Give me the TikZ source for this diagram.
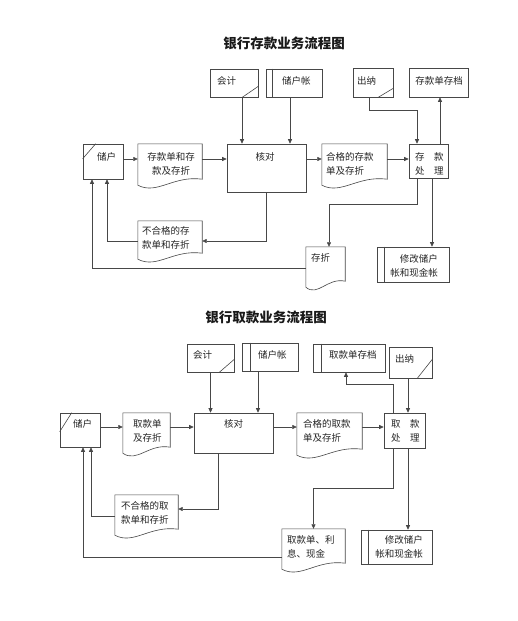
\documentclass[tikz,border=0pt]{standalone}
\usepackage{fontspec}
\newfontfamily\cjk{Noto Sans CJK SC}
\usetikzlibrary{arrows.meta,calc}
\tikzset{
  ln/.style={draw=black!72, line width=0.6pt},
  box/.style={ln, rectangle, inner sep=0pt},
  docbase/.style={rectangle, inner sep=0pt},
  arr/.style={ln, -{Triangle[length=4.5pt,width=4pt]}},
  txt/.style={font=\cjk\fontsize{9.5}{14}\selectfont, inner sep=0pt, text=black!85},
  ttl/.style={font=\cjk\bfseries\fontsize{13.5}{16}\selectfont, inner sep=0pt, text=black!90}
}
\newcommand\docshape[1]{\draw[ln] (#1.north west) -- (#1.north east) -- (#1.south east)
  .. controls ($(#1.south west)!0.55!(#1.south east)+(0,-4)$) and ($(#1.south west)!0.3!(#1.south east)+(0,16)$) .. ($(#1.south west)+(0,6)$) -- cycle;}
\begin{document}
\begin{tikzpicture}[x=1pt,y=-1pt]
\fill[white] (0,0) rectangle (517,621);
\useasboundingbox (0,0) rectangle (517,621);

% ================= Top diagram =================
\node[ttl] (tA) at (284,43) {银行存款业务流程图};

\node[box, minimum width=48pt, minimum height=28pt] (kjA) at (234,83) {};
\draw[ln] ($(kjA.south east)+(-16,0)$) -- ($(kjA.south east)+(0,-11)$);
\node[txt, anchor=west] (kjAt) at (217,81) {会计};

\node[box, minimum width=56pt, minimum height=28pt] (chzA) at (294,83) {};
\draw[ln] ($(chzA.north west)+(7,0)$) -- ($(chzA.south west)+(7,0)$);
\node[txt, anchor=west] (chzAt) at (282,81) {储户帐};

\node[box, minimum width=40pt, minimum height=29pt] (cnA) at (373,82.5) {};
\draw[ln] ($(cnA.south east)+(-15,0)$) -- ($(cnA.south east)+(0,-9)$);
\node[txt, anchor=west] (cnAt) at (357,81) {出纳};

\node[box, minimum width=59pt, minimum height=29pt] (cdA) at (438.5,82.5) {};
\node[txt] (cdAt) at (439,81) {存款单存档};

\node[box, minimum width=40pt, minimum height=35pt] (chA) at (103,161.5) {};
\draw[ln] ($(chA.north west)+(0,15)$) -- ($(chA.north west)+(13,0)$);
\node[txt, anchor=west] (chAt) at (97,157) {储户};

\node[docbase, minimum width=64pt, minimum height=35pt] (d1A) at (170,161.5) {};
\docshape{d1A}
\node[txt, align=center] (d1At) at (171,163.5) {存款单和存\\款及存折};

\node[box, minimum width=79pt, minimum height=48pt] (hdA) at (266.5,168) {};
\node[txt] (hdAt) at (265,157) {核对};

\node[docbase, minimum width=65pt, minimum height=35pt] (d2A) at (354.5,161.5) {};
\docshape{d2A}
\node[txt, align=left, anchor=west] (d2At) at (326,163.5) {合格的存款\\单及存折};

\node[box, minimum width=39pt, minimum height=34pt] (clA) at (428.5,161) {};
\node[txt, align=left, anchor=west] (clAt) at (415,163.5) {存　款\\处　理};

\node[docbase, minimum width=64pt, minimum height=32pt] (d3A) at (170,237) {};
\docshape{d3A}
\node[txt, align=left, anchor=west] (d3At) at (142,237.5) {不合格的存\\款单和存折};

\node[docbase, minimum width=39pt, minimum height=34pt] (czA) at (325.5,264) {};
\docshape{czA}
\node[txt, anchor=west] (czAt) at (311,258) {存折};

\node[box, minimum width=72pt, minimum height=35pt] (xgA) at (413,264.5) {};
\draw[ln] ($(xgA.north west)+(8,0)$) -- ($(xgA.south west)+(8,0)$);
\node[txt, align=right, anchor=east] (xgAt) at (438,266) {修改储户\\帐和现金帐};

\coordinate (rowA) at (0,159);
\draw[arr] (chA.east |- rowA) -- (d1A.west |- rowA);
\draw[arr] (d1A.east |- rowA) -- (hdA.west |- rowA);
\draw[arr] (hdA.east |- rowA) -- (d2A.west |- rowA);
\draw[arr] (d2A.east |- rowA) -- (clA.west |- rowA);
\draw[arr] ([xshift=8pt]kjA.south) -- ([xshift=8pt]kjA.south |- hdA.north);
\draw[arr] ([xshift=-4pt]chzA.south) -- ([xshift=-4pt]chzA.south |- hdA.north);
\draw[arr] ([xshift=-4pt]cnA.south) -- ++(0,13) -| ([xshift=-11.5pt]clA.north);
\draw[arr] ([xshift=11.5pt]clA.north) -- ([xshift=11.5pt]clA.north |- cdA.south);
\draw[arr] ([xshift=-11.5pt]clA.south) -- ++(0,26) -| ([xshift=3.5pt]czA.north);
\draw[arr] ([xshift=3.5pt]clA.south) -- ([xshift=3.5pt]clA.south |- xgA.north);
\draw[arr] (hdA.south) |- ([yshift=-4pt]d3A.east);
\draw[arr] ([yshift=-4pt]d3A.west) -| ([xshift=4pt]chA.south);
\draw[arr] ([yshift=-4pt]czA.west) -| ([xshift=-11pt]chA.south);

% ================= Bottom diagram =================
\node[ttl] (tB) at (266,317) {银行取款业务流程图};

\node[box, minimum width=47pt, minimum height=28pt] (kjB) at (210.5,358) {};
\draw[ln] ($(kjB.south east)+(-15,0)$) -- ($(kjB.south east)+(0,-13)$);
\node[txt, anchor=west] (kjBt) at (193,355) {会计};

\node[box, minimum width=56pt, minimum height=28pt] (chzB) at (270,357) {};
\draw[ln] ($(chzB.north west)+(9,0)$) -- ($(chzB.south west)+(9,0)$);
\node[txt, anchor=west] (chzBt) at (258,355) {储户帐};

\node[box, minimum width=72pt, minimum height=28pt] (cdB) at (349,358) {};
\draw[ln] ($(cdB.north west)+(9,0)$) -- ($(cdB.south west)+(9,0)$);
\node[txt, anchor=west] (cdBt) at (329,355) {取款单存档};

\node[box, minimum width=43pt, minimum height=31pt] (cnB) at (410.5,362.5) {};
\draw[ln] ($(cnB.south east)+(-15,0)$) -- ($(cnB.south east)+(0,-19)$);
\node[txt, anchor=west] (cnBt) at (395,359) {出纳};

\node[box, minimum width=40pt, minimum height=34pt] (chB) at (80,430) {};
\draw[ln] ($(chB.north west)+(0,19)$) -- ($(chB.north west)+(12,0)$);
\node[txt, anchor=west] (chBt) at (73,424) {储户};

\node[docbase, minimum width=47pt, minimum height=34pt] (d1B) at (146.5,430) {};
\docshape{d1B}
\node[txt, align=left, anchor=west] (d1Bt) at (133,431) {取款单\\及存折};

\node[box, minimum width=79pt, minimum height=40pt] (hdB) at (233.5,433) {};
\node[txt] (hdBt) at (233.5,424) {核对};

\node[docbase, minimum width=65pt, minimum height=36pt] (d2B) at (329.5,431) {};
\docshape{d2B}
\node[txt, align=left, anchor=west] (d2Bt) at (303,430.5) {合格的取款\\单及存折};

\node[box, minimum width=41pt, minimum height=35pt] (clB) at (404.5,430.5) {};
\node[txt, align=left, anchor=west] (clBt) at (391,431) {取　款\\处　理};

\node[docbase, minimum width=63pt, minimum height=34pt] (d3B) at (146.5,512) {};
\docshape{d3B}
\node[txt, align=left, anchor=west] (d3Bt) at (121,513) {不合格的取\\款单和存折};

\node[docbase, minimum width=63pt, minimum height=34pt] (qkB) at (313.5,546) {};
\docshape{qkB}
\node[txt, align=left, anchor=west] (qkBt) at (287,547) {取款单、利\\息、现金};

\node[box, minimum width=71pt, minimum height=34pt] (xgB) at (396.5,547) {};
\draw[ln] ($(xgB.north west)+(8,0)$) -- ($(xgB.south west)+(8,0)$);
\node[txt, align=right, anchor=east] (xgBt) at (423,547) {修改储户\\帐和现金帐};

\coordinate (rowB) at (0,427);
\draw[arr] (chB.east |- rowB) -- (d1B.west |- rowB);
\draw[arr] (d1B.east |- rowB) -- (hdB.west |- rowB);
\draw[arr] (hdB.east |- rowB) -- (d2B.west |- rowB);
\draw[arr] (d2B.east |- rowB) -- (clB.west |- rowB);
\draw[arr] (kjB.south) -- (kjB.south |- hdB.north);
\draw[arr] ([xshift=-12pt]chzB.south) -- ([xshift=-12pt]chzB.south |- hdB.north);
\draw[arr] ([xshift=-2.5pt]cnB.south) -- ([xshift=-2.5pt]cnB.south |- clB.north);
\draw[arr] ([xshift=-11.5pt]clB.north) -- ++(0,-28) -| ([xshift=-3pt]cdB.south);
\draw[arr] ([xshift=-11.5pt]clB.south) -- ++(0,40) -| (qkB.north);
\draw[arr] ([xshift=3.5pt]clB.south) -- ([xshift=3.5pt]clB.south |- xgB.north);
\draw[arr] ([xshift=-15.5pt]hdB.south) |- ([yshift=3pt]d3B.east);
\draw[arr] ([yshift=-4pt]d3B.west) -| ([xshift=11pt]chB.south);
\draw[arr] ([yshift=-11pt]qkB.west) -| ([xshift=3pt]chB.south);
\end{tikzpicture}
\end{document}
